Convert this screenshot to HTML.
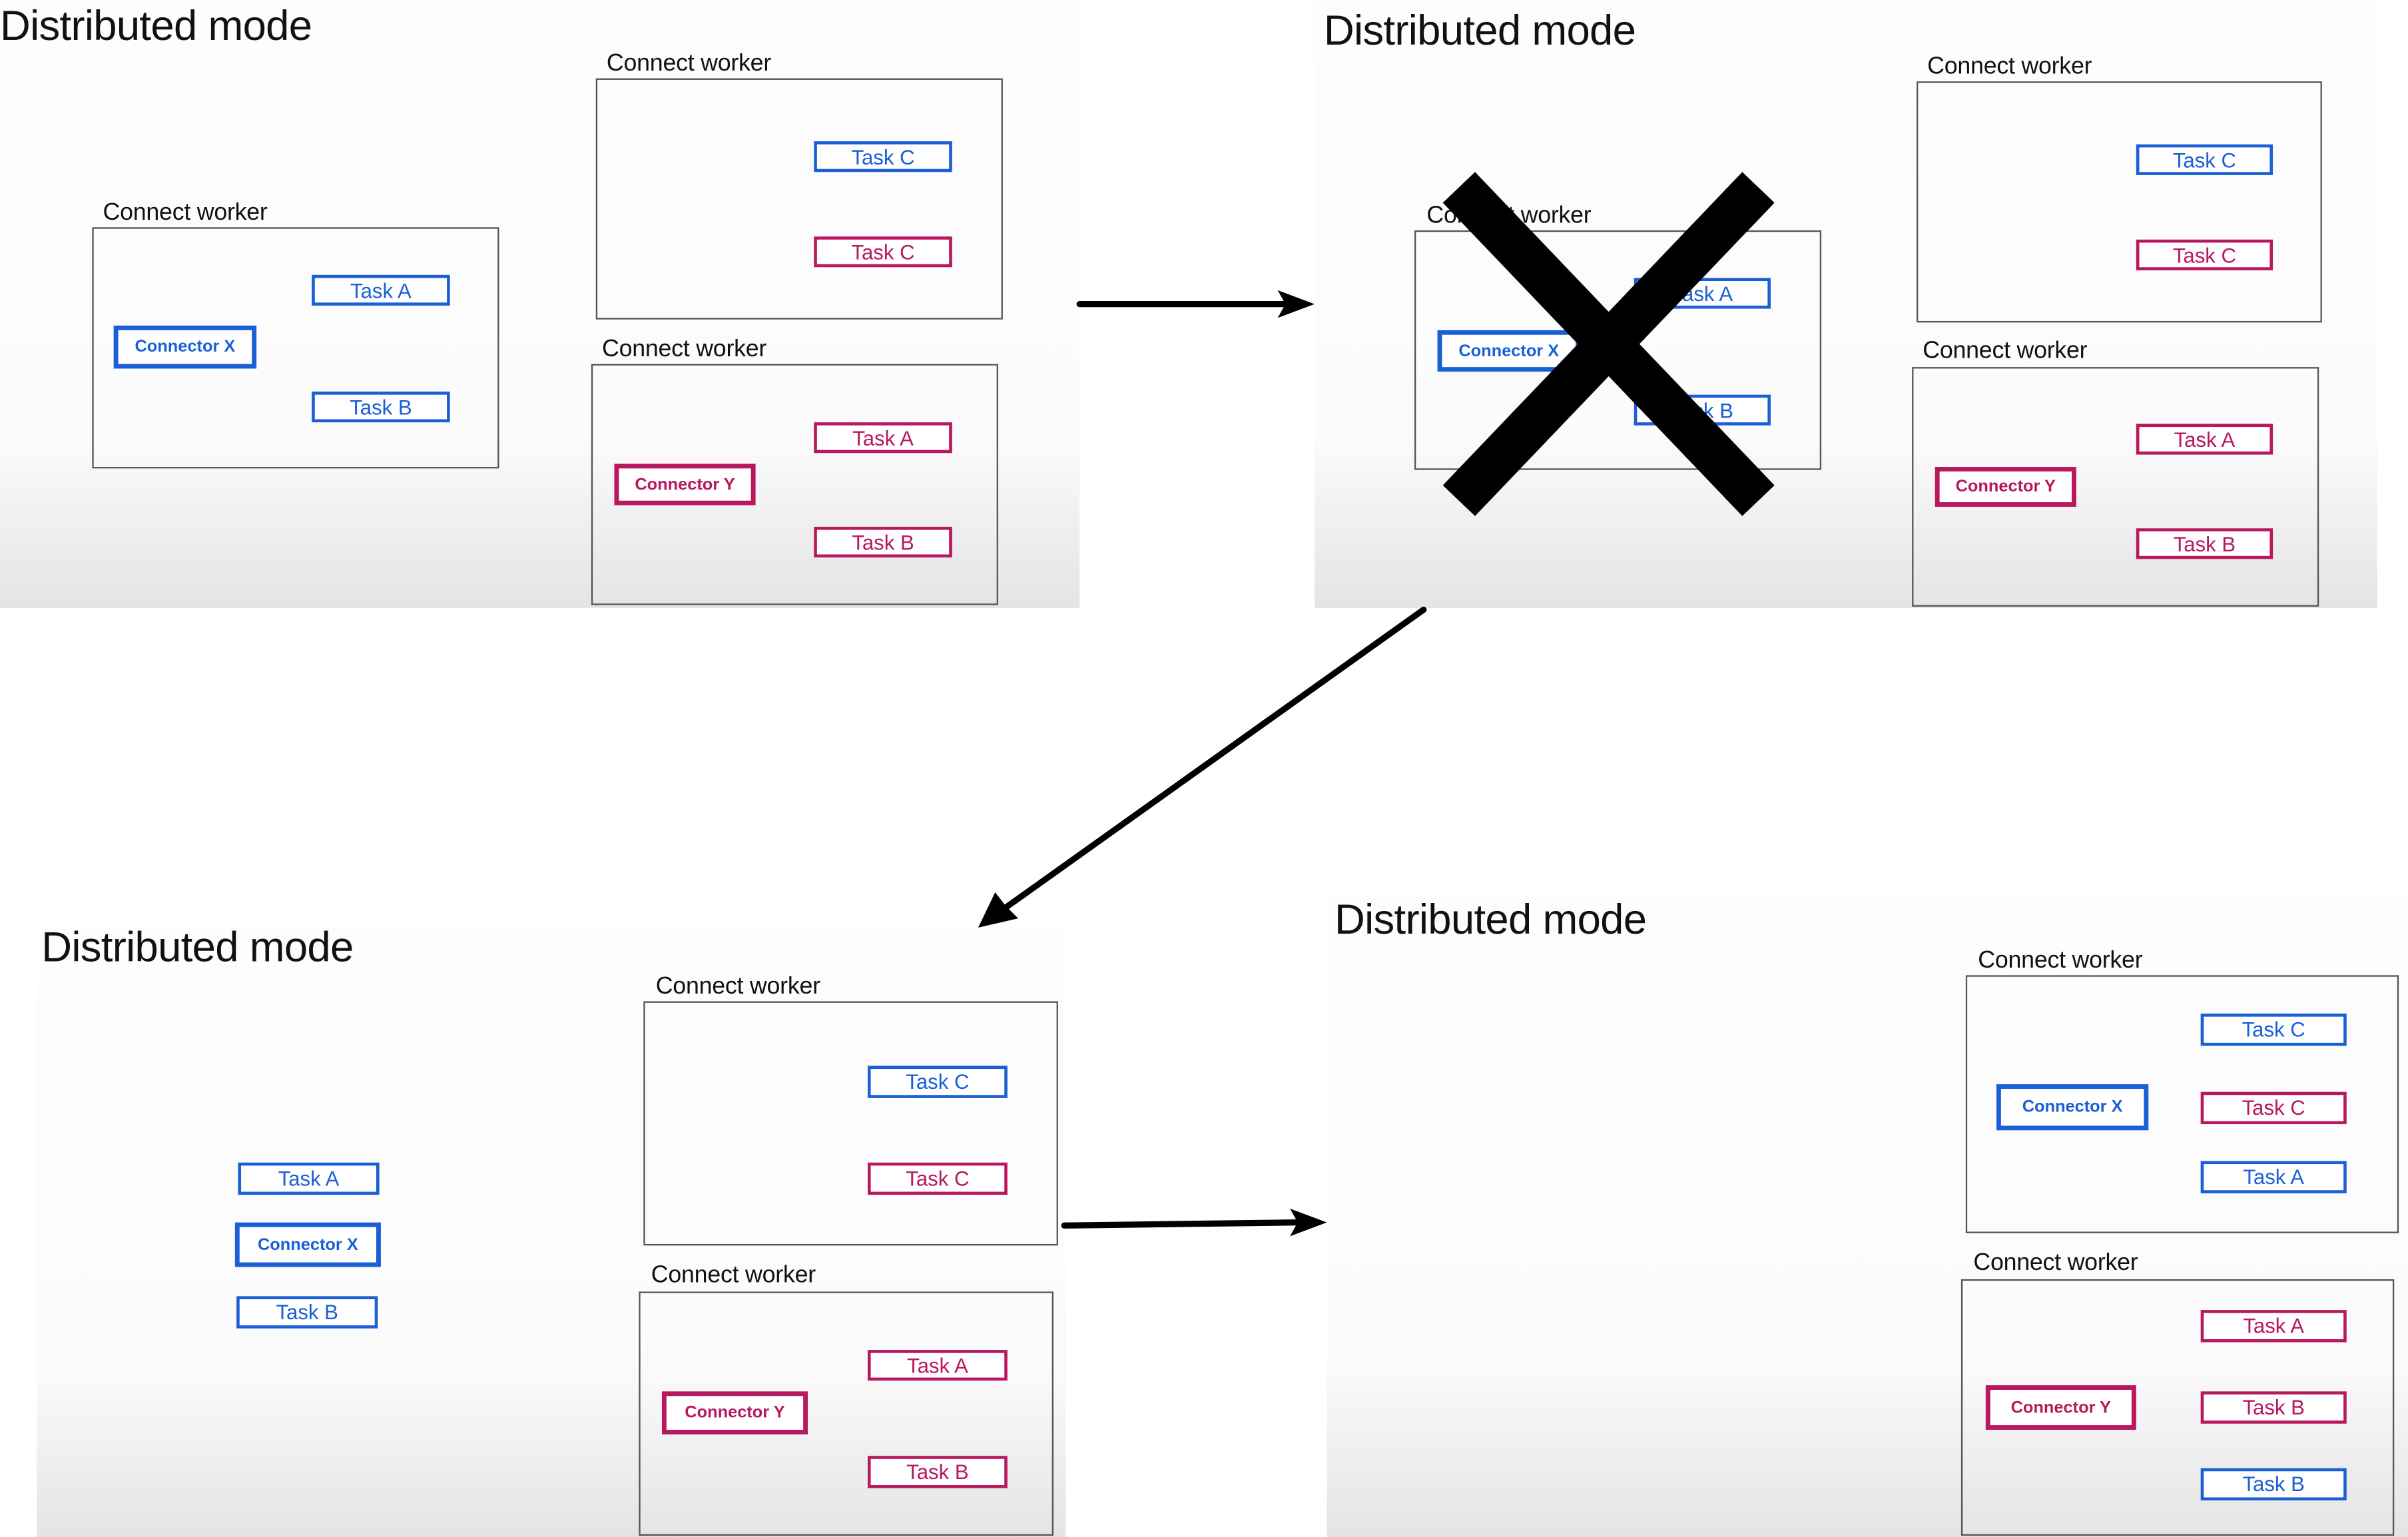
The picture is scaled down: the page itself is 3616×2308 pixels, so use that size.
<!DOCTYPE html>
<html><head><meta charset="utf-8">
<style>
html,body{margin:0;padding:0;background:#fff;}
body{width:3616px;height:2308px;overflow:hidden;position:relative;font-family:"Liberation Sans",sans-serif;}
#s{position:absolute;left:0;top:0;width:1568px;height:1001px;transform:scale(2.30612);transform-origin:0 0;}
.p{position:absolute;background:linear-gradient(to bottom,#fdfdfd 0%,#fbfbfb 72%,#e4e4e4 100%);}
.t{position:absolute;font-size:27.5px;color:#111;letter-spacing:-0.3px;white-space:nowrap;line-height:1;}
.l{position:absolute;font-size:15.5px;color:#111;white-space:nowrap;line-height:1;letter-spacing:-0.1px;}
.w{position:absolute;border:1.2px solid #555;box-sizing:border-box;}
.k{position:absolute;box-sizing:border-box;border:2px solid;display:flex;align-items:center;justify-content:center;font-size:13.5px;background:#fff;}
.c{position:absolute;box-sizing:border-box;border:3px solid;display:flex;align-items:center;justify-content:center;font-size:11px;font-weight:bold;background:#fff;}
.b{border-color:#1a5fd6;color:#1a5fd6;}
.r{border-color:#b8185e;color:#b8185e;}
</style></head><body><div id="s">

<!-- Panel 1 -->
<div class="p" style="left:0;top:0;width:703px;height:396px;"></div>
<div class="t" style="left:0;top:3px;">Distributed mode</div>
<div class="l" style="left:395px;top:34px;">Connect worker</div>
<div class="w" style="left:388px;top:51px;width:265px;height:157px;"></div>
<div class="k b" style="left:530px;top:92px;width:90px;height:20px;">Task C</div>
<div class="k r" style="left:530px;top:154px;width:90px;height:20px;">Task C</div>
<div class="l" style="left:392px;top:220px;">Connect worker</div>
<div class="w" style="left:385px;top:237px;width:265px;height:157px;"></div>
<div class="k r" style="left:530px;top:275px;width:90px;height:20px;">Task A</div>
<div class="c r" style="left:400px;top:302px;width:92px;height:27px;">Connector Y</div>
<div class="k r" style="left:530px;top:343px;width:90px;height:20px;">Task B</div>
<div class="l" style="left:67px;top:131px;">Connect worker</div>
<div class="w" style="left:60px;top:148px;width:265px;height:157px;"></div>
<div class="k b" style="left:203px;top:179px;width:90px;height:20px;">Task A</div>
<div class="c b" style="left:74px;top:212px;width:93px;height:28px;">Connector X</div>
<div class="k b" style="left:203px;top:255px;width:90px;height:20px;">Task B</div>

<!-- Panel 2 -->
<div class="p" style="left:856px;top:0;width:692px;height:396px;"></div>
<div class="t" style="left:862px;top:6px;">Distributed mode</div>
<div class="l" style="left:1255px;top:36px;">Connect worker</div>
<div class="w" style="left:1248px;top:53px;width:264px;height:157px;"></div>
<div class="k b" style="left:1391px;top:94px;width:89px;height:20px;">Task C</div>
<div class="k r" style="left:1391px;top:156px;width:89px;height:20px;">Task C</div>
<div class="l" style="left:1252px;top:221px;">Connect worker</div>
<div class="w" style="left:1245px;top:239px;width:265px;height:156px;"></div>
<div class="k r" style="left:1391px;top:276px;width:89px;height:20px;">Task A</div>
<div class="c r" style="left:1260px;top:304px;width:92px;height:26px;">Connector Y</div>
<div class="k r" style="left:1391px;top:344px;width:89px;height:20px;">Task B</div>
<div class="l" style="left:929px;top:133px;">Connect worker</div>
<div class="w" style="left:921px;top:150px;width:265px;height:156px;"></div>
<div class="k b" style="left:1064px;top:181px;width:89px;height:20px;">Task A</div>
<div class="c b" style="left:936px;top:215px;width:93px;height:27px;">Connector X</div>
<div class="k b" style="left:1064px;top:257px;width:89px;height:20px;">Task B</div>

<!-- Panel 3 -->
<div class="p" style="left:24px;top:603px;width:670px;height:398px;"></div>
<div class="t" style="left:27px;top:603px;">Distributed mode</div>
<div class="l" style="left:427px;top:635px;">Connect worker</div>
<div class="w" style="left:419px;top:652px;width:270px;height:159px;"></div>
<div class="k b" style="left:565px;top:694px;width:91px;height:21px;">Task C</div>
<div class="k r" style="left:565px;top:757px;width:91px;height:21px;">Task C</div>
<div class="l" style="left:424px;top:823px;">Connect worker</div>
<div class="w" style="left:416px;top:841px;width:270px;height:159px;"></div>
<div class="k r" style="left:565px;top:879px;width:91px;height:20px;">Task A</div>
<div class="c r" style="left:431px;top:906px;width:95px;height:28px;">Connector Y</div>
<div class="k r" style="left:565px;top:948px;width:91px;height:21px;">Task B</div>
<div class="k b" style="left:155px;top:757px;width:92px;height:21px;">Task A</div>
<div class="c b" style="left:153px;top:796px;width:95px;height:29px;">Connector X</div>
<div class="k b" style="left:154px;top:844px;width:92px;height:21px;">Task B</div>

<!-- Panel 4 -->
<div class="p" style="left:864px;top:585px;width:704px;height:416px;"></div>
<div class="t" style="left:869px;top:585px;">Distributed mode</div>
<div class="l" style="left:1288px;top:618px;">Connect worker</div>
<div class="w" style="left:1280px;top:635px;width:282px;height:168px;"></div>
<div class="k b" style="left:1433px;top:660px;width:95px;height:21px;">Task C</div>
<div class="c b" style="left:1300px;top:706px;width:99px;height:30px;">Connector X</div>
<div class="k r" style="left:1433px;top:711px;width:95px;height:21px;">Task C</div>
<div class="k b" style="left:1433px;top:756px;width:95px;height:21px;">Task A</div>
<div class="l" style="left:1285px;top:815px;">Connect worker</div>
<div class="w" style="left:1277px;top:833px;width:282px;height:167px;"></div>
<div class="k r" style="left:1433px;top:853px;width:95px;height:21px;">Task A</div>
<div class="c r" style="left:1293px;top:902px;width:98px;height:29px;">Connector Y</div>
<div class="k r" style="left:1433px;top:906px;width:95px;height:21px;">Task B</div>
<div class="k b" style="left:1433px;top:956px;width:95px;height:21px;">Task B</div>

<svg style="position:absolute;left:0;top:0" width="1568" height="1001" viewBox="0 0 1568 1001">
<g stroke="#000" stroke-width="29" stroke-linecap="butt">
<line x1="950" y1="122" x2="1145" y2="326"/>
<line x1="1145" y1="122" x2="950" y2="326"/>
</g>
<g stroke="#000" stroke-width="4" stroke-linecap="round" fill="none">
<line x1="703" y1="198" x2="838" y2="198"/>
<line x1="927" y1="397" x2="652" y2="593"/>
<line x1="693" y1="798" x2="845" y2="796"/>
</g>
<g fill="#000">
<polygon points="856,198 832,189 837,198 832,207"/>
<polygon points="637,604 648,581 655,590 663,598"/>
<polygon points="864,796 840,787 845,796 840,805"/>
</g>
</svg>
</div></body></html>
